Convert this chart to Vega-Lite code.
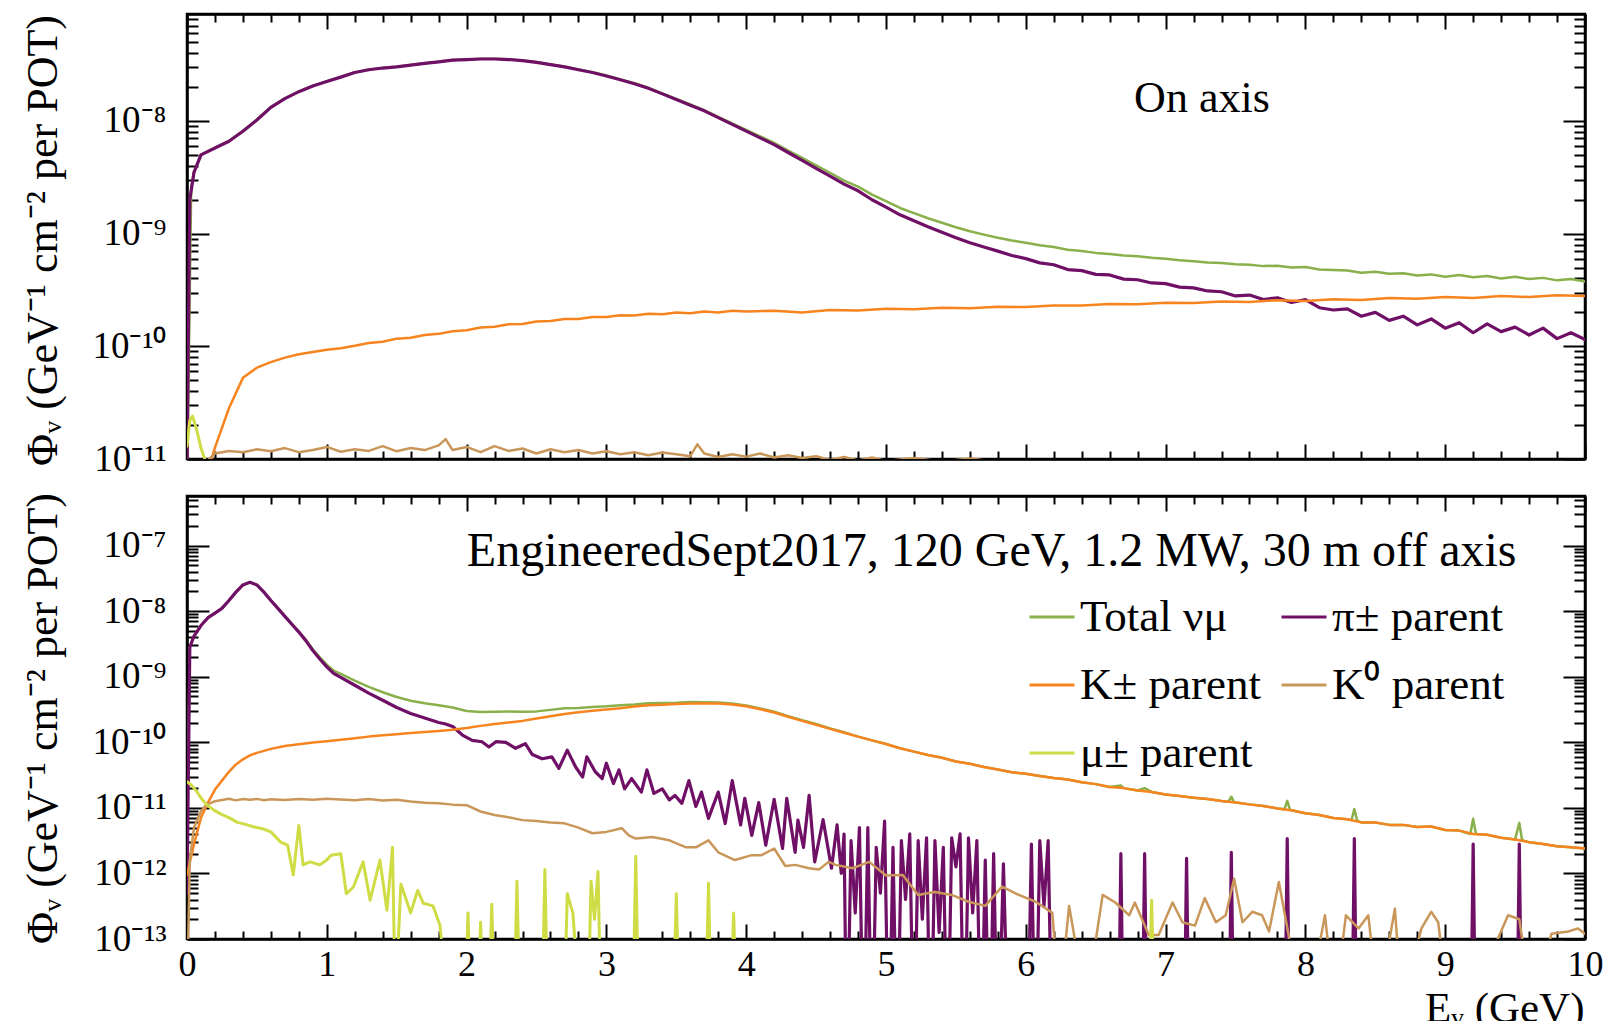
{
  "$schema": "https://vega.github.io/schema/vega-lite/v6.json",
  "padding": {"left": 19, "top": 11, "right": 19, "bottom": 5},
  "spacing": 37,
  "bounds": "flush",
  "config": {
    "font": "Liberation Serif",
    "view": {"stroke": "black", "strokeWidth": 2.5},
    "line": {"strokeJoin": "round", "strokeCap": "round"},
    "axis": {"domainColor": "black", "domainWidth": 2.5, "tickColor": "black", "tickWidth": 2, "labelColor": "black", "labelFont": "Liberation Serif", "labelFontSize": 36, "titleFont": "Liberation Serif", "titleFontSize": 44, "titleFontWeight": "normal", "titleColor": "black", "grid": false, "labelOverlap": false, "labelFlush": false},
    "legend": {"orient": "none", "legendX": 841, "legendY": 579, "columns": 2, "direction": "horizontal", "symbolType": "stroke", "symbolSize": 2025, "symbolStrokeWidth": 3, "labelFontSize": 45, "labelFont": "Liberation Serif", "labelColor": "black", "labelLimit": 500, "rowPadding": 21, "columnPadding": 19, "labelOffset": 4, "padding": 0}
  },
  "datasets": {
    "on_tot": [{"E":0.0,"v":5e-12},{"E":0.03,"v":2.55e-9},{"E":0.05,"v":3.55e-9},{"E":0.1,"v":5.02e-9},{"E":0.2,"v":5.77e-9},{"E":0.3,"v":6.63e-9},{"E":0.4,"v":8.15e-9},{"E":0.5,"v":1.03e-8},{"E":0.6,"v":1.33e-8},{"E":0.7,"v":1.59e-8},{"E":0.8,"v":1.83e-8},{"E":0.9,"v":2.05e-8},{"E":1.0,"v":2.25e-8},{"E":1.1,"v":2.46e-8},{"E":1.2,"v":2.7e-8},{"E":1.3,"v":2.86e-8},{"E":1.4,"v":2.96e-8},{"E":1.5,"v":3.03e-8},{"E":1.6,"v":3.14e-8},{"E":1.7,"v":3.25e-8},{"E":1.8,"v":3.36e-8},{"E":1.9,"v":3.48e-8},{"E":2.0,"v":3.52e-8},{"E":2.1,"v":3.56e-8},{"E":2.2,"v":3.57e-8},{"E":2.3,"v":3.53e-8},{"E":2.4,"v":3.45e-8},{"E":2.5,"v":3.33e-8},{"E":2.6,"v":3.18e-8},{"E":2.7,"v":3.04e-8},{"E":2.8,"v":2.87e-8},{"E":2.9,"v":2.71e-8},{"E":3.0,"v":2.53e-8},{"E":3.1,"v":2.34e-8},{"E":3.2,"v":2.16e-8},{"E":3.3,"v":1.97e-8},{"E":3.4,"v":1.76e-8},{"E":3.5,"v":1.57e-8},{"E":3.6,"v":1.4e-8},{"E":3.7,"v":1.25e-8},{"E":3.8,"v":1.09e-8},{"E":3.9,"v":9.54e-9},{"E":4.0,"v":8.35e-9},{"E":4.1,"v":7.3e-9},{"E":4.2,"v":6.39e-9},{"E":4.3,"v":5.47e-9},{"E":4.4,"v":4.7e-9},{"E":4.5,"v":4.03e-9},{"E":4.6,"v":3.47e-9},{"E":4.7,"v":2.96e-9},{"E":4.8,"v":2.61e-9},{"E":4.9,"v":2.22e-9},{"E":5.0,"v":1.94e-9},{"E":5.1,"v":1.69e-9},{"E":5.2,"v":1.52e-9},{"E":5.3,"v":1.37e-9},{"E":5.4,"v":1.25e-9},{"E":5.5,"v":1.14e-9},{"E":5.6,"v":1.05e-9},{"E":5.7,"v":9.8e-10},{"E":5.8,"v":9.2e-10},{"E":5.9,"v":8.7e-10},{"E":6.0,"v":8.3e-10},{"E":6.1,"v":7.9e-10},{"E":6.2,"v":7.6e-10},{"E":6.3,"v":7.2e-10},{"E":6.4,"v":7.0e-10},{"E":6.5,"v":6.75e-10},{"E":6.6,"v":6.6e-10},{"E":6.7,"v":6.4e-10},{"E":6.8,"v":6.3e-10},{"E":6.9,"v":6.1e-10},{"E":7.0,"v":6.0e-10},{"E":7.1,"v":5.8e-10},{"E":7.2,"v":5.7e-10},{"E":7.3,"v":5.55e-10},{"E":7.4,"v":5.5e-10},{"E":7.5,"v":5.35e-10},{"E":7.6,"v":5.3e-10},{"E":7.7,"v":5.15e-10},{"E":7.8,"v":5.2e-10},{"E":7.9,"v":5.0e-10},{"E":8.0,"v":5.05e-10},{"E":8.1,"v":4.8e-10},{"E":8.2,"v":4.75e-10},{"E":8.3,"v":4.7e-10},{"E":8.4,"v":4.5e-10},{"E":8.5,"v":4.6e-10},{"E":8.6,"v":4.4e-10},{"E":8.7,"v":4.45e-10},{"E":8.8,"v":4.25e-10},{"E":8.9,"v":4.35e-10},{"E":9.0,"v":4.15e-10},{"E":9.1,"v":4.3e-10},{"E":9.2,"v":4.1e-10},{"E":9.3,"v":4.2e-10},{"E":9.4,"v":4.0e-10},{"E":9.5,"v":4.15e-10},{"E":9.6,"v":3.95e-10},{"E":9.7,"v":4.05e-10},{"E":9.8,"v":3.85e-10},{"E":9.9,"v":3.95e-10},{"E":10.0,"v":3.75e-10}],
    "on_pi": [{"E":0.0,"v":8e-12},{"E":0.02,"v":2.0e-9},{"E":0.05,"v":3.5e-9},{"E":0.1,"v":5.0e-9},{"E":0.2,"v":5.75e-9},{"E":0.3,"v":6.6e-9},{"E":0.4,"v":8.1e-9},{"E":0.5,"v":1.02e-8},{"E":0.6,"v":1.32e-8},{"E":0.7,"v":1.58e-8},{"E":0.8,"v":1.82e-8},{"E":0.9,"v":2.04e-8},{"E":1.0,"v":2.24e-8},{"E":1.1,"v":2.45e-8},{"E":1.2,"v":2.69e-8},{"E":1.3,"v":2.85e-8},{"E":1.4,"v":2.95e-8},{"E":1.5,"v":3.02e-8},{"E":1.6,"v":3.13e-8},{"E":1.7,"v":3.24e-8},{"E":1.8,"v":3.35e-8},{"E":1.9,"v":3.47e-8},{"E":2.0,"v":3.51e-8},{"E":2.1,"v":3.55e-8},{"E":2.2,"v":3.55e-8},{"E":2.3,"v":3.51e-8},{"E":2.4,"v":3.43e-8},{"E":2.5,"v":3.31e-8},{"E":2.6,"v":3.16e-8},{"E":2.7,"v":3.02e-8},{"E":2.8,"v":2.85e-8},{"E":2.9,"v":2.69e-8},{"E":3.0,"v":2.51e-8},{"E":3.1,"v":2.32e-8},{"E":3.2,"v":2.14e-8},{"E":3.3,"v":1.95e-8},{"E":3.4,"v":1.74e-8},{"E":3.5,"v":1.55e-8},{"E":3.6,"v":1.38e-8},{"E":3.7,"v":1.23e-8},{"E":3.8,"v":1.07e-8},{"E":3.9,"v":9.33e-9},{"E":4.0,"v":8.13e-9},{"E":4.1,"v":7.08e-9},{"E":4.2,"v":6.17e-9},{"E":4.3,"v":5.25e-9},{"E":4.4,"v":4.47e-9},{"E":4.5,"v":3.8e-9},{"E":4.6,"v":3.24e-9},{"E":4.7,"v":2.75e-9},{"E":4.8,"v":2.4e-9},{"E":4.9,"v":2.0e-9},{"E":5.0,"v":1.72e-9},{"E":5.1,"v":1.47e-9},{"E":5.2,"v":1.3e-9},{"E":5.3,"v":1.15e-9},{"E":5.4,"v":1.03e-9},{"E":5.5,"v":9.2e-10},{"E":5.6,"v":8.3e-10},{"E":5.7,"v":7.6e-10},{"E":5.8,"v":7.0e-10},{"E":5.9,"v":6.4e-10},{"E":6.0,"v":6.0e-10},{"E":6.1,"v":5.5e-10},{"E":6.2,"v":5.3e-10},{"E":6.3,"v":4.8e-10},{"E":6.4,"v":4.7e-10},{"E":6.5,"v":4.35e-10},{"E":6.6,"v":4.3e-10},{"E":6.7,"v":3.95e-10},{"E":6.8,"v":3.9e-10},{"E":6.9,"v":3.65e-10},{"E":7.0,"v":3.6e-10},{"E":7.1,"v":3.35e-10},{"E":7.2,"v":3.3e-10},{"E":7.3,"v":3.1e-10},{"E":7.4,"v":3.05e-10},{"E":7.5,"v":2.8e-10},{"E":7.6,"v":2.85e-10},{"E":7.7,"v":2.6e-10},{"E":7.8,"v":2.7e-10},{"E":7.9,"v":2.45e-10},{"E":8.0,"v":2.6e-10},{"E":8.1,"v":2.2e-10},{"E":8.2,"v":2.1e-10},{"E":8.3,"v":2.15e-10},{"E":8.4,"v":1.85e-10},{"E":8.5,"v":2.0e-10},{"E":8.6,"v":1.7e-10},{"E":8.7,"v":1.85e-10},{"E":8.8,"v":1.55e-10},{"E":8.9,"v":1.75e-10},{"E":9.0,"v":1.45e-10},{"E":9.1,"v":1.62e-10},{"E":9.2,"v":1.32e-10},{"E":9.3,"v":1.58e-10},{"E":9.4,"v":1.35e-10},{"E":9.5,"v":1.48e-10},{"E":9.6,"v":1.26e-10},{"E":9.7,"v":1.45e-10},{"E":9.8,"v":1.17e-10},{"E":9.9,"v":1.32e-10},{"E":10.0,"v":1.15e-10}],
    "on_kc": [{"E":0.15,"v":7.9e-12},{"E":0.2,"v":1.26e-11},{"E":0.3,"v":2.82e-11},{"E":0.4,"v":5.25e-11},{"E":0.5,"v":6.46e-11},{"E":0.6,"v":7.24e-11},{"E":0.7,"v":7.94e-11},{"E":0.8,"v":8.51e-11},{"E":0.9,"v":8.91e-11},{"E":1.0,"v":9.33e-11},{"E":1.1,"v":9.6e-11},{"E":1.2,"v":1.01e-10},{"E":1.3,"v":1.07e-10},{"E":1.4,"v":1.1e-10},{"E":1.5,"v":1.17e-10},{"E":1.6,"v":1.19e-10},{"E":1.7,"v":1.26e-10},{"E":1.8,"v":1.29e-10},{"E":1.9,"v":1.36e-10},{"E":2.0,"v":1.39e-10},{"E":2.1,"v":1.47e-10},{"E":2.2,"v":1.49e-10},{"E":2.3,"v":1.57e-10},{"E":2.4,"v":1.58e-10},{"E":2.5,"v":1.66e-10},{"E":2.6,"v":1.68e-10},{"E":2.7,"v":1.75e-10},{"E":2.8,"v":1.75e-10},{"E":2.9,"v":1.82e-10},{"E":3.0,"v":1.82e-10},{"E":3.1,"v":1.89e-10},{"E":3.2,"v":1.88e-10},{"E":3.3,"v":1.95e-10},{"E":3.4,"v":1.93e-10},{"E":3.5,"v":2.0e-10},{"E":3.6,"v":1.97e-10},{"E":3.7,"v":2.04e-10},{"E":3.8,"v":2.0e-10},{"E":3.9,"v":2.07e-10},{"E":4.0,"v":2.04e-10},{"E":4.2,"v":2.07e-10},{"E":4.4,"v":2.0e-10},{"E":4.6,"v":2.1e-10},{"E":4.8,"v":2.08e-10},{"E":5.0,"v":2.15e-10},{"E":5.2,"v":2.13e-10},{"E":5.4,"v":2.2e-10},{"E":5.6,"v":2.18e-10},{"E":5.8,"v":2.25e-10},{"E":6.0,"v":2.23e-10},{"E":6.2,"v":2.3e-10},{"E":6.4,"v":2.3e-10},{"E":6.6,"v":2.38e-10},{"E":6.8,"v":2.36e-10},{"E":7.0,"v":2.44e-10},{"E":7.2,"v":2.42e-10},{"E":7.4,"v":2.5e-10},{"E":7.6,"v":2.48e-10},{"E":7.8,"v":2.57e-10},{"E":8.0,"v":2.53e-10},{"E":8.2,"v":2.62e-10},{"E":8.4,"v":2.58e-10},{"E":8.6,"v":2.68e-10},{"E":8.8,"v":2.64e-10},{"E":9.0,"v":2.74e-10},{"E":9.2,"v":2.69e-10},{"E":9.4,"v":2.79e-10},{"E":9.6,"v":2.74e-10},{"E":9.8,"v":2.84e-10},{"E":10.0,"v":2.8e-10}],
    "on_k0": [{"E":0.14,"v":9.5e-12},{"E":0.2,"v":1.12e-11},{"E":0.3,"v":1.18e-11},{"E":0.4,"v":1.15e-11},{"E":0.5,"v":1.22e-11},{"E":0.6,"v":1.17e-11},{"E":0.7,"v":1.25e-11},{"E":0.8,"v":1.15e-11},{"E":0.9,"v":1.2e-11},{"E":1.0,"v":1.28e-11},{"E":1.1,"v":1.16e-11},{"E":1.2,"v":1.22e-11},{"E":1.3,"v":1.18e-11},{"E":1.4,"v":1.3e-11},{"E":1.5,"v":1.17e-11},{"E":1.6,"v":1.25e-11},{"E":1.7,"v":1.2e-11},{"E":1.8,"v":1.32e-11},{"E":1.85,"v":1.5e-11},{"E":1.9,"v":1.2e-11},{"E":2.0,"v":1.28e-11},{"E":2.1,"v":1.15e-11},{"E":2.2,"v":1.3e-11},{"E":2.3,"v":1.18e-11},{"E":2.4,"v":1.24e-11},{"E":2.5,"v":1.12e-11},{"E":2.6,"v":1.22e-11},{"E":2.7,"v":1.15e-11},{"E":2.8,"v":1.2e-11},{"E":2.9,"v":1.12e-11},{"E":3.0,"v":1.17e-11},{"E":3.1,"v":1.1e-11},{"E":3.2,"v":1.15e-11},{"E":3.3,"v":1.08e-11},{"E":3.4,"v":1.14e-11},{"E":3.5,"v":1.1e-11},{"E":3.6,"v":1.06e-11},{"E":3.65,"v":1.35e-11},{"E":3.7,"v":1.12e-11},{"E":3.8,"v":1.04e-11},{"E":3.9,"v":1.1e-11},{"E":4.0,"v":1.05e-11},{"E":4.1,"v":1.12e-11},{"E":4.2,"v":1.03e-11},{"E":4.3,"v":1.08e-11},{"E":4.4,"v":1.02e-11},{"E":4.5,"v":1.06e-11},{"E":4.6,"v":9.8e-12},{"E":4.7,"v":1.04e-11},{"E":4.8,"v":9.7e-12},{"E":4.9,"v":1.03e-11},{"E":5.0,"v":9.6e-12},{"E":5.2,"v":1.02e-11},{"E":5.4,"v":9.5e-12},{"E":5.6,"v":1.01e-11},{"E":5.8,"v":9.4e-12},{"E":6.0,"v":9e-12},{"E":10.0,"v":8e-12}],
    "on_mu": [{"E":0.0,"v":1.3e-11},{"E":0.02,"v":2.2e-11},{"E":0.04,"v":2.4e-11},{"E":0.07,"v":1.8e-11},{"E":0.1,"v":1.25e-11},{"E":0.14,"v":9e-12},{"E":0.2,"v":8e-12},{"E":10.0,"v":5e-12}],
    "off_tot": [{"E":0.0,"v":3e-12},{"E":0.02,"v":2.85e-9},{"E":0.05,"v":4.2e-9},{"E":0.1,"v":6.06e-9},{"E":0.15,"v":7.97e-9},{"E":0.2,"v":9.37e-9},{"E":0.25,"v":1.1e-8},{"E":0.3,"v":1.45e-8},{"E":0.35,"v":1.95e-8},{"E":0.4,"v":2.52e-8},{"E":0.45,"v":2.76e-8},{"E":0.5,"v":2.52e-8},{"E":0.55,"v":1.96e-8},{"E":0.6,"v":1.46e-8},{"E":0.65,"v":1.11e-8},{"E":0.7,"v":8.42e-9},{"E":0.75,"v":6.41e-9},{"E":0.8,"v":4.89e-9},{"E":0.85,"v":3.65e-9},{"E":0.9,"v":2.62e-9},{"E":0.95,"v":1.97e-9},{"E":1.0,"v":1.53e-9},{"E":1.05,"v":1.24e-9},{"E":1.1,"v":1.1e-9},{"E":1.2,"v":8.7e-10},{"E":1.3,"v":6.98e-10},{"E":1.4,"v":5.8e-10},{"E":1.5,"v":4.9e-10},{"E":1.6,"v":4.3e-10},{"E":1.7,"v":3.93e-10},{"E":1.8,"v":3.66e-10},{"E":1.9,"v":3.4e-10},{"E":2.0,"v":3.0e-10},{"E":2.1,"v":2.89e-10},{"E":2.2,"v":2.93e-10},{"E":2.3,"v":2.95e-10},{"E":2.4,"v":2.92e-10},{"E":2.5,"v":2.96e-10},{"E":2.6,"v":3.12e-10},{"E":2.7,"v":3.3e-10},{"E":2.8,"v":3.33e-10},{"E":2.9,"v":3.46e-10},{"E":3.0,"v":3.54e-10},{"E":3.1,"v":3.68e-10},{"E":3.2,"v":3.78e-10},{"E":3.3,"v":3.94e-10},{"E":3.4,"v":3.96e-10},{"E":3.5,"v":4.0e-10},{"E":3.6,"v":4.1e-10},{"E":3.7,"v":4.08e-10},{"E":3.8,"v":4.04e-10},{"E":3.9,"v":3.92e-10},{"E":4.0,"v":3.65e-10},{"E":4.1,"v":3.28e-10},{"E":4.2,"v":2.92e-10},{"E":4.3,"v":2.5e-10},{"E":4.4,"v":2.18e-10},{"E":4.5,"v":1.9e-10},{"E":4.6,"v":1.63e-10},{"E":4.7,"v":1.42e-10},{"E":4.8,"v":1.22e-10},{"E":4.9,"v":1.07e-10},{"E":5.0,"v":9.4e-11},{"E":5.1,"v":8.1e-11},{"E":5.2,"v":7.2e-11},{"E":5.3,"v":6.4e-11},{"E":5.4,"v":5.8e-11},{"E":5.5,"v":5.1e-11},{"E":5.6,"v":4.7e-11},{"E":5.7,"v":4.2e-11},{"E":5.8,"v":3.85e-11},{"E":5.9,"v":3.5e-11},{"E":6.0,"v":3.3e-11},{"E":6.1,"v":3.05e-11},{"E":6.2,"v":2.85e-11},{"E":6.3,"v":2.7e-11},{"E":6.4,"v":2.45e-11},{"E":6.5,"v":2.3e-11},{"E":6.6,"v":2.08e-11},{"E":6.68,"v":2.2e-11},{"E":6.7,"v":2.0e-11},{"E":6.8,"v":1.84e-11},{"E":6.85,"v":2.0e-11},{"E":6.9,"v":1.75e-11},{"E":7.0,"v":1.6e-11},{"E":7.1,"v":1.52e-11},{"E":7.2,"v":1.43e-11},{"E":7.3,"v":1.36e-11},{"E":7.4,"v":1.27e-11},{"E":7.45,"v":1.24e-11},{"E":7.47,"v":1.48e-11},{"E":7.49,"v":1.22e-11},{"E":7.6,"v":1.13e-11},{"E":7.7,"v":1.07e-11},{"E":7.8,"v":9.8e-12},{"E":7.85,"v":9.5e-12},{"E":7.87,"v":1.28e-11},{"E":7.89,"v":9.3e-12},{"E":8.0,"v":8.3e-12},{"E":8.1,"v":7.8e-12},{"E":8.2,"v":7.0e-12},{"E":8.3,"v":6.7e-12},{"E":8.33,"v":6.5e-12},{"E":8.35,"v":9.6e-12},{"E":8.37,"v":6.4e-12},{"E":8.4,"v":6.0e-12},{"E":8.5,"v":6.0e-12},{"E":8.6,"v":5.5e-12},{"E":8.7,"v":5.5e-12},{"E":8.8,"v":5.1e-12},{"E":8.9,"v":5.2e-12},{"E":9.0,"v":4.6e-12},{"E":9.1,"v":4.5e-12},{"E":9.18,"v":4.0e-12},{"E":9.2,"v":6.8e-12},{"E":9.22,"v":4.0e-12},{"E":9.3,"v":3.9e-12},{"E":9.4,"v":3.5e-12},{"E":9.5,"v":3.3e-12},{"E":9.53,"v":5.9e-12},{"E":9.55,"v":3.2e-12},{"E":9.6,"v":3.0e-12},{"E":9.7,"v":2.8e-12},{"E":9.8,"v":2.6e-12},{"E":9.9,"v":2.5e-12},{"E":10.0,"v":2.4e-12}],
    "off_pi": [{"E":0.0,"v":5e-13},{"E":0.02,"v":2.8e-9},{"E":0.05,"v":4.17e-9},{"E":0.1,"v":6.03e-9},{"E":0.15,"v":7.94e-9},{"E":0.2,"v":9.33e-9},{"E":0.25,"v":1.1e-8},{"E":0.3,"v":1.45e-8},{"E":0.35,"v":1.95e-8},{"E":0.4,"v":2.51e-8},{"E":0.45,"v":2.75e-8},{"E":0.5,"v":2.51e-8},{"E":0.55,"v":1.95e-8},{"E":0.6,"v":1.45e-8},{"E":0.65,"v":1.1e-8},{"E":0.7,"v":8.32e-9},{"E":0.75,"v":6.31e-9},{"E":0.8,"v":4.79e-9},{"E":0.85,"v":3.55e-9},{"E":0.9,"v":2.51e-9},{"E":0.95,"v":1.86e-9},{"E":1.0,"v":1.41e-9},{"E":1.05,"v":1.12e-9},{"E":1.1,"v":9.77e-10},{"E":1.2,"v":7.41e-10},{"E":1.3,"v":5.62e-10},{"E":1.4,"v":4.37e-10},{"E":1.5,"v":3.39e-10},{"E":1.6,"v":2.75e-10},{"E":1.7,"v":2.34e-10},{"E":1.8,"v":2.0e-10},{"E":1.85,"v":1.9e-10},{"E":1.9,"v":1.74e-10},{"E":1.97,"v":1.29e-10},{"E":2.04,"v":1.07e-10},{"E":2.11,"v":1.02e-10},{"E":2.16,"v":8.5e-11},{"E":2.21,"v":1.02e-10},{"E":2.28,"v":1.0e-10},{"E":2.35,"v":8.1e-11},{"E":2.42,"v":9.5e-11},{"E":2.47,"v":6.5e-11},{"E":2.54,"v":5.6e-11},{"E":2.61,"v":6.0e-11},{"E":2.66,"v":4.0e-11},{"E":2.72,"v":7.6e-11},{"E":2.78,"v":4.2e-11},{"E":2.83,"v":2.95e-11},{"E":2.86,"v":6.0e-11},{"E":2.92,"v":3.55e-11},{"E":2.97,"v":2.8e-11},{"E":3.0,"v":4.8e-11},{"E":3.05,"v":2.35e-11},{"E":3.09,"v":3.8e-11},{"E":3.13,"v":1.95e-11},{"E":3.18,"v":2.8e-11},{"E":3.25,"v":1.74e-11},{"E":3.29,"v":3.8e-11},{"E":3.34,"v":1.66e-11},{"E":3.4,"v":1.95e-11},{"E":3.45,"v":1.32e-11},{"E":3.49,"v":1.55e-11},{"E":3.54,"v":1.17e-11},{"E":3.59,"v":2.6e-11},{"E":3.64,"v":1.05e-11},{"E":3.68,"v":1.74e-11},{"E":3.73,"v":6.9e-12},{"E":3.8,"v":1.74e-11},{"E":3.85,"v":5.75e-12},{"E":3.9,"v":2.6e-11},{"E":3.96,"v":5.5e-12},{"E":3.99,"v":1.4e-11},{"E":4.04,"v":3.8e-12},{"E":4.09,"v":1.2e-11},{"E":4.14,"v":2.7e-12},{"E":4.2,"v":1.35e-11},{"E":4.26,"v":2.4e-12},{"E":4.29,"v":1.4e-11},{"E":4.35,"v":2.1e-12},{"E":4.37,"v":6.5e-12},{"E":4.41,"v":2.5e-12},{"E":4.45,"v":1.55e-11},{"E":4.49,"v":1.5e-12},{"E":4.55,"v":6.6e-12},{"E":4.61,"v":1.2e-12},{"E":4.65,"v":5.5e-12},{"E":4.68,"v":1.0e-12},{"E":4.7,"v":3.98e-12},{"E":4.72,"v":1e-15},{"E":4.75,"v":3.16e-12},{"E":4.78,"v":2.5e-13},{"E":4.81,"v":5.0e-12},{"E":4.84,"v":1e-15},{"E":4.87,"v":5.0e-12},{"E":4.9,"v":1e-15},{"E":4.93,"v":2.5e-12},{"E":4.96,"v":5.0e-13},{"E":4.99,"v":6.3e-12},{"E":5.02,"v":1e-15},{"E":5.05,"v":2.5e-12},{"E":5.08,"v":1e-15},{"E":5.11,"v":3.16e-12},{"E":5.14,"v":4.0e-13},{"E":5.17,"v":4.0e-12},{"E":5.2,"v":1e-15},{"E":5.23,"v":3.16e-12},{"E":5.26,"v":2.0e-13},{"E":5.29,"v":3.5e-12},{"E":5.32,"v":1e-15},{"E":5.35,"v":3.16e-12},{"E":5.38,"v":1.26e-13},{"E":5.41,"v":2.5e-12},{"E":5.44,"v":1e-15},{"E":5.47,"v":3.5e-12},{"E":5.5,"v":1.26e-12},{"E":5.53,"v":4.0e-12},{"E":5.56,"v":1e-15},{"E":5.59,"v":3.5e-12},{"E":5.62,"v":2.5e-13},{"E":5.65,"v":3.16e-12},{"E":5.68,"v":1e-15},{"E":5.71,"v":1.6e-12},{"E":5.74,"v":1e-15},{"E":5.77,"v":2.0e-12},{"E":5.8,"v":1e-15},{"E":5.84,"v":1.4e-12},{"E":5.88,"v":1e-15},{"E":6.01,"v":1e-15},{"E":6.04,"v":2.8e-12},{"E":6.07,"v":1e-15},{"E":6.1,"v":3.16e-12},{"E":6.13,"v":3.16e-13},{"E":6.16,"v":3.16e-12},{"E":6.19,"v":1e-15},{"E":6.66,"v":1e-15},{"E":6.68,"v":2.0e-12},{"E":6.7,"v":1e-15},{"E":6.83,"v":1e-15},{"E":6.85,"v":2.0e-12},{"E":6.87,"v":1e-15},{"E":7.13,"v":1e-15},{"E":7.15,"v":1.7e-12},{"E":7.17,"v":1e-15},{"E":7.45,"v":1e-15},{"E":7.47,"v":2.1e-12},{"E":7.49,"v":1e-15},{"E":7.85,"v":1e-15},{"E":7.87,"v":3.4e-12},{"E":7.89,"v":1e-15},{"E":8.33,"v":1e-15},{"E":8.35,"v":3.4e-12},{"E":8.37,"v":1e-15},{"E":9.18,"v":1e-15},{"E":9.2,"v":2.8e-12},{"E":9.22,"v":1e-15},{"E":9.51,"v":1e-15},{"E":9.53,"v":2.8e-12},{"E":9.55,"v":1e-15},{"E":10.0,"v":1e-15}],
    "off_kc": [{"E":0.0,"v":9.5e-13},{"E":0.05,"v":2.8e-12},{"E":0.1,"v":7.1e-12},{"E":0.15,"v":1.2e-11},{"E":0.2,"v":1.9e-11},{"E":0.25,"v":2.6e-11},{"E":0.3,"v":3.55e-11},{"E":0.35,"v":4.6e-11},{"E":0.4,"v":5.5e-11},{"E":0.45,"v":6.3e-11},{"E":0.5,"v":6.9e-11},{"E":0.6,"v":7.94e-11},{"E":0.7,"v":8.8e-11},{"E":0.8,"v":9.3e-11},{"E":0.9,"v":9.9e-11},{"E":1.0,"v":1.04e-10},{"E":1.1,"v":1.09e-10},{"E":1.2,"v":1.15e-10},{"E":1.3,"v":1.22e-10},{"E":1.4,"v":1.28e-10},{"E":1.5,"v":1.33e-10},{"E":1.6,"v":1.38e-10},{"E":1.7,"v":1.43e-10},{"E":1.8,"v":1.49e-10},{"E":1.9,"v":1.55e-10},{"E":2.0,"v":1.65e-10},{"E":2.1,"v":1.78e-10},{"E":2.2,"v":1.9e-10},{"E":2.3,"v":2.0e-10},{"E":2.4,"v":2.12e-10},{"E":2.5,"v":2.3e-10},{"E":2.6,"v":2.5e-10},{"E":2.7,"v":2.7e-10},{"E":2.8,"v":2.88e-10},{"E":2.9,"v":3.02e-10},{"E":3.0,"v":3.15e-10},{"E":3.1,"v":3.31e-10},{"E":3.2,"v":3.5e-10},{"E":3.3,"v":3.66e-10},{"E":3.4,"v":3.75e-10},{"E":3.5,"v":3.82e-10},{"E":3.6,"v":3.9e-10},{"E":3.7,"v":3.94e-10},{"E":3.8,"v":3.9e-10},{"E":3.9,"v":3.78e-10},{"E":4.0,"v":3.55e-10},{"E":4.1,"v":3.2e-10},{"E":4.2,"v":2.84e-10},{"E":4.3,"v":2.45e-10},{"E":4.4,"v":2.12e-10},{"E":4.5,"v":1.85e-10},{"E":4.6,"v":1.6e-10},{"E":4.7,"v":1.4e-10},{"E":4.8,"v":1.22e-10},{"E":4.9,"v":1.07e-10},{"E":5.0,"v":9.4e-11},{"E":5.1,"v":8.1e-11},{"E":5.2,"v":7.2e-11},{"E":5.3,"v":6.4e-11},{"E":5.4,"v":5.8e-11},{"E":5.5,"v":5.1e-11},{"E":5.6,"v":4.7e-11},{"E":5.7,"v":4.2e-11},{"E":5.8,"v":3.85e-11},{"E":5.9,"v":3.5e-11},{"E":6.0,"v":3.3e-11},{"E":6.1,"v":3.05e-11},{"E":6.2,"v":2.85e-11},{"E":6.3,"v":2.7e-11},{"E":6.4,"v":2.45e-11},{"E":6.5,"v":2.3e-11},{"E":6.6,"v":2.08e-11},{"E":6.7,"v":2.0e-11},{"E":6.8,"v":1.84e-11},{"E":6.9,"v":1.75e-11},{"E":7.0,"v":1.6e-11},{"E":7.1,"v":1.52e-11},{"E":7.2,"v":1.43e-11},{"E":7.3,"v":1.36e-11},{"E":7.4,"v":1.27e-11},{"E":7.5,"v":1.21e-11},{"E":7.6,"v":1.13e-11},{"E":7.7,"v":1.07e-11},{"E":7.8,"v":9.8e-12},{"E":7.9,"v":9.2e-12},{"E":8.0,"v":8.3e-12},{"E":8.1,"v":7.8e-12},{"E":8.2,"v":7.0e-12},{"E":8.3,"v":6.7e-12},{"E":8.4,"v":6.0e-12},{"E":8.5,"v":6.0e-12},{"E":8.6,"v":5.5e-12},{"E":8.7,"v":5.5e-12},{"E":8.8,"v":5.1e-12},{"E":8.9,"v":5.2e-12},{"E":9.0,"v":4.6e-12},{"E":9.1,"v":4.5e-12},{"E":9.2,"v":4.0e-12},{"E":9.3,"v":3.9e-12},{"E":9.4,"v":3.5e-12},{"E":9.5,"v":3.3e-12},{"E":9.6,"v":3.0e-12},{"E":9.7,"v":2.8e-12},{"E":9.8,"v":2.6e-12},{"E":9.9,"v":2.5e-12},{"E":10.0,"v":2.4e-12}],
    "off_k0": [{"E":0.0,"v":1e-14},{"E":0.02,"v":1.58e-12},{"E":0.05,"v":5.0e-12},{"E":0.1,"v":8.9e-12},{"E":0.14,"v":1.12e-11},{"E":0.2,"v":1.26e-11},{"E":0.25,"v":1.32e-11},{"E":0.3,"v":1.38e-11},{"E":0.35,"v":1.3e-11},{"E":0.4,"v":1.36e-11},{"E":0.45,"v":1.33e-11},{"E":0.5,"v":1.37e-11},{"E":0.55,"v":1.31e-11},{"E":0.6,"v":1.35e-11},{"E":0.7,"v":1.32e-11},{"E":0.8,"v":1.37e-11},{"E":0.9,"v":1.33e-11},{"E":1.0,"v":1.38e-11},{"E":1.1,"v":1.34e-11},{"E":1.2,"v":1.31e-11},{"E":1.3,"v":1.36e-11},{"E":1.4,"v":1.29e-11},{"E":1.5,"v":1.33e-11},{"E":1.6,"v":1.25e-11},{"E":1.7,"v":1.2e-11},{"E":1.8,"v":1.18e-11},{"E":1.9,"v":1.12e-11},{"E":2.0,"v":1.1e-11},{"E":2.1,"v":8.8e-12},{"E":2.2,"v":7.8e-12},{"E":2.3,"v":7.2e-12},{"E":2.4,"v":6.5e-12},{"E":2.5,"v":6.3e-12},{"E":2.6,"v":6.0e-12},{"E":2.7,"v":5.8e-12},{"E":2.8,"v":5.0e-12},{"E":2.9,"v":4.1e-12},{"E":3.0,"v":4.3e-12},{"E":3.11,"v":4.9e-12},{"E":3.16,"v":3.8e-12},{"E":3.21,"v":3.4e-12},{"E":3.33,"v":3.6e-12},{"E":3.45,"v":3.2e-12},{"E":3.57,"v":2.5e-12},{"E":3.64,"v":2.5e-12},{"E":3.73,"v":3.2e-12},{"E":3.8,"v":2.1e-12},{"E":3.92,"v":1.6e-12},{"E":4.04,"v":1.9e-12},{"E":4.11,"v":1.9e-12},{"E":4.2,"v":2.4e-12},{"E":4.28,"v":1.3e-12},{"E":4.35,"v":1.35e-12},{"E":4.45,"v":1.2e-12},{"E":4.52,"v":1.15e-12},{"E":4.59,"v":1.5e-12},{"E":4.64,"v":1.35e-12},{"E":4.76,"v":1.2e-12},{"E":4.88,"v":1.5e-12},{"E":5.0,"v":9.3e-13},{"E":5.12,"v":9.5e-13},{"E":5.23,"v":4.7e-13},{"E":5.35,"v":5.2e-13},{"E":5.47,"v":4.7e-13},{"E":5.59,"v":3.7e-13},{"E":5.71,"v":3.2e-13},{"E":5.83,"v":6.3e-13},{"E":5.95,"v":4.7e-13},{"E":6.07,"v":3.7e-13},{"E":6.19,"v":2.5e-13},{"E":6.24,"v":1e-14},{"E":6.31,"v":3.2e-13},{"E":6.43,"v":1e-14},{"E":6.55,"v":4.7e-13},{"E":6.64,"v":3.6e-13},{"E":6.74,"v":2.3e-13},{"E":6.78,"v":3.6e-13},{"E":6.88,"v":1.15e-13},{"E":6.95,"v":1.15e-13},{"E":7.05,"v":3.6e-13},{"E":7.12,"v":1.8e-13},{"E":7.21,"v":1.6e-13},{"E":7.28,"v":4.2e-13},{"E":7.36,"v":1.8e-13},{"E":7.43,"v":2.3e-13},{"E":7.49,"v":8.3e-13},{"E":7.55,"v":1.8e-13},{"E":7.62,"v":2.6e-13},{"E":7.69,"v":2.3e-13},{"E":7.74,"v":1.3e-13},{"E":7.81,"v":7.4e-13},{"E":7.88,"v":1.15e-13},{"E":7.95,"v":1e-14},{"E":8.02,"v":1e-14},{"E":8.14,"v":2.3e-13},{"E":8.21,"v":1e-14},{"E":8.29,"v":2.3e-13},{"E":8.38,"v":1.45e-13},{"E":8.45,"v":2.3e-13},{"E":8.52,"v":1e-14},{"E":8.64,"v":2.9e-13},{"E":8.69,"v":1e-14},{"E":8.83,"v":1.45e-13},{"E":8.9,"v":2.6e-13},{"E":8.95,"v":1.8e-13},{"E":9.02,"v":1e-14},{"E":9.17,"v":1e-14},{"E":9.45,"v":2.3e-13},{"E":9.53,"v":2.0e-13},{"E":9.62,"v":1e-14},{"E":9.76,"v":1.2e-13},{"E":9.88,"v":1.3e-13},{"E":9.95,"v":1.45e-13},{"E":10.0,"v":1.2e-13}],
    "off_mu": [{"E":0.0,"v":2.5e-11},{"E":0.03,"v":2.24e-11},{"E":0.07,"v":1.78e-11},{"E":0.1,"v":1.41e-11},{"E":0.14,"v":1.12e-11},{"E":0.19,"v":9.3e-12},{"E":0.24,"v":8.1e-12},{"E":0.3,"v":7.1e-12},{"E":0.36,"v":6.0e-12},{"E":0.42,"v":5.6e-12},{"E":0.48,"v":5.1e-12},{"E":0.54,"v":4.8e-12},{"E":0.6,"v":4.3e-12},{"E":0.67,"v":3.0e-12},{"E":0.72,"v":2.7e-12},{"E":0.76,"v":9.5e-13},{"E":0.8,"v":5.4e-12},{"E":0.83,"v":1.35e-12},{"E":0.88,"v":1.5e-12},{"E":0.95,"v":1.35e-12},{"E":1.0,"v":1.6e-12},{"E":1.03,"v":1.9e-12},{"E":1.1,"v":2.0e-12},{"E":1.14,"v":4.9e-13},{"E":1.19,"v":6.2e-13},{"E":1.26,"v":1.5e-12},{"E":1.31,"v":3.9e-13},{"E":1.38,"v":1.6e-12},{"E":1.43,"v":2.75e-13},{"E":1.47,"v":2.5e-12},{"E":1.49,"v":1e-14},{"E":1.53,"v":6.9e-13},{"E":1.6,"v":2.5e-13},{"E":1.65,"v":5.5e-13},{"E":1.69,"v":3.5e-13},{"E":1.76,"v":3.2e-13},{"E":1.81,"v":1.6e-13},{"E":1.86,"v":1e-14},{"E":1.99,"v":1e-14},{"E":2.01,"v":2.5e-13},{"E":2.03,"v":1e-14},{"E":2.08,"v":1e-14},{"E":2.1,"v":1.8e-13},{"E":2.12,"v":1e-14},{"E":2.16,"v":1e-14},{"E":2.18,"v":3.4e-13},{"E":2.2,"v":1e-14},{"E":2.34,"v":1e-14},{"E":2.36,"v":7.6e-13},{"E":2.38,"v":1e-14},{"E":2.54,"v":1e-14},{"E":2.56,"v":1.15e-12},{"E":2.58,"v":1e-14},{"E":2.7,"v":1e-14},{"E":2.72,"v":4.9e-13},{"E":2.76,"v":2.5e-13},{"E":2.81,"v":1e-14},{"E":2.87,"v":1e-14},{"E":2.89,"v":7.6e-13},{"E":2.915,"v":2e-13},{"E":2.94,"v":1.07e-12},{"E":2.96,"v":1e-14},{"E":3.19,"v":1e-14},{"E":3.21,"v":1.82e-12},{"E":3.23,"v":1e-14},{"E":3.48,"v":1e-14},{"E":3.5,"v":4.9e-13},{"E":3.52,"v":1e-14},{"E":3.71,"v":1e-14},{"E":3.73,"v":7.1e-13},{"E":3.75,"v":1e-14},{"E":3.89,"v":1e-14},{"E":3.91,"v":2.5e-13},{"E":3.93,"v":1e-14},{"E":6.88,"v":1e-14},{"E":6.9,"v":3.9e-13},{"E":6.92,"v":1e-14},{"E":10.0,"v":1e-14}]
  },
  "vconcat": [
    {
      "width": 1398,
      "height": 445,
      "resolve": {"axis": {"x": "independent", "y": "independent"}},
      "layer": [
        {
          "data": {"name": "on_tot"},
          "mark": {"type": "line", "clip": true, "strokeWidth": 2.5},
          "encoding": {
            "x": {"field": "E", "type": "quantitative", "scale": {"domain": [0, 10], "nice": false, "zero": false},
                  "axis": {"orient": "bottom", "values": [0,0.2,0.4,0.6,0.8,1,1.2,1.4,1.6,1.8,2,2.2,2.4,2.6,2.8,3,3.2,3.4,3.6,3.8,4,4.2,4.4,4.6,4.8,5,5.2,5.4,5.6,5.8,6,6.2,6.4,6.6,6.8,7,7.2,7.4,7.6,7.8,8,8.2,8.4,8.6,8.8,9,9.2,9.4,9.6,9.8,10], "tickSize": {"condition": {"test": "abs(datum.value - round(datum.value)) < 0.01", "value": -15}, "value": -8}, "labels": false, "title": null}},
            "y": {"field": "v", "type": "quantitative", "scale": {"type": "log", "domain": [1e-11, 8.9e-8], "nice": false},
                  "axis": {"orient": "left", "values": [1e-11,2e-11,3e-11,4e-11,5e-11,6e-11,7e-11,8e-11,9e-11,1e-10,2e-10,3e-10,4e-10,5e-10,6e-10,7e-10,8e-10,9e-10,1e-9,2e-9,3e-9,4e-9,5e-9,6e-9,7e-9,8e-9,9e-9,1e-8,2e-8,3e-8,4e-8,5e-8,6e-8,7e-8,8e-8], "tickSize": {"condition": {"test": "abs(log(datum.value)/LN10 - round(log(datum.value)/LN10)) < 0.01", "value": -22}, "value": -11}, "labelFontSize": {"condition": {"test": "abs(log(datum.value)/LN10 - round(log(datum.value)/LN10)) < 0.01", "value": 37}, "value": 1}, "labelExpr": "abs(log(datum.value)/LN10 - round(log(datum.value)/LN10)) < 0.01 ? '10' + ['⁻¹³','⁻¹²','⁻¹¹','⁻¹⁰','⁻⁹','⁻⁸','⁻⁷','⁻⁶'][round(log(datum.value)/LN10) + 13] : ''", "labelPadding": 43, "title": "Φᵥ (GeV⁻¹ cm⁻² per POT)", "titleX": -144, "titleY": 226, "titleBaseline": "middle", "titleAlign": "center"}},
            "color": {"datum": "Total νμ", "scale": {"domain": ["Total νμ", "π± parent", "K± parent", "K⁰ parent", "μ± parent"], "range": ["#89b04a", "#6f1066", "#f7841f", "#c9975a", "#d0dc45"]}, "legend": {"title": null}}
          }
        },
        {
          "data": {"name": "on_pi"},
          "mark": {"type": "line", "clip": true, "strokeWidth": 3.2},
          "encoding": {
            "x": {"field": "E", "type": "quantitative", "axis": {"orient": "top", "values": [0,0.2,0.4,0.6,0.8,1,1.2,1.4,1.6,1.8,2,2.2,2.4,2.6,2.8,3,3.2,3.4,3.6,3.8,4,4.2,4.4,4.6,4.8,5,5.2,5.4,5.6,5.8,6,6.2,6.4,6.6,6.8,7,7.2,7.4,7.6,7.8,8,8.2,8.4,8.6,8.8,9,9.2,9.4,9.6,9.8,10], "tickSize": {"condition": {"test": "abs(datum.value - round(datum.value)) < 0.01", "value": -15}, "value": -8}, "labels": false, "title": null}},
            "y": {"field": "v", "type": "quantitative", "axis": {"orient": "right", "values": [1e-11,2e-11,3e-11,4e-11,5e-11,6e-11,7e-11,8e-11,9e-11,1e-10,2e-10,3e-10,4e-10,5e-10,6e-10,7e-10,8e-10,9e-10,1e-9,2e-9,3e-9,4e-9,5e-9,6e-9,7e-9,8e-9,9e-9,1e-8,2e-8,3e-8,4e-8,5e-8,6e-8,7e-8,8e-8], "tickSize": {"condition": {"test": "abs(log(datum.value)/LN10 - round(log(datum.value)/LN10)) < 0.01", "value": -22}, "value": -11}, "labels": false, "title": null}},
            "color": {"datum": "π± parent"}
          }
        },
        {
          "data": {"name": "on_kc"},
          "mark": {"type": "line", "clip": true, "strokeWidth": 2.5},
          "encoding": {"x": {"field": "E", "type": "quantitative", "axis": null}, "y": {"field": "v", "type": "quantitative", "axis": null}, "color": {"datum": "K± parent"}}
        },
        {
          "data": {"name": "on_k0"},
          "mark": {"type": "line", "clip": true, "strokeWidth": 2.5},
          "encoding": {"x": {"field": "E", "type": "quantitative", "axis": null}, "y": {"field": "v", "type": "quantitative", "axis": null}, "color": {"datum": "K⁰ parent"}}
        },
        {
          "data": {"name": "on_mu"},
          "mark": {"type": "line", "clip": true, "strokeWidth": 3},
          "encoding": {"x": {"field": "E", "type": "quantitative", "axis": null}, "y": {"field": "v", "type": "quantitative", "axis": null}, "color": {"datum": "μ± parent"}}
        },
        {
          "data": {"values": [{"label": "On axis"}]},
          "mark": {"type": "text", "font": "Liberation Serif", "fontSize": 44, "align": "center", "baseline": "middle", "color": "black"},
          "encoding": {"text": {"field": "label"}, "x": {"datum": 7.26, "axis": null}, "y": {"datum": 1.56e-8, "axis": null}}
        }
      ]
    },
    {
      "width": 1398,
      "height": 443,
      "resolve": {"axis": {"x": "independent", "y": "independent"}},
      "layer": [
        {
          "data": {"name": "off_tot"},
          "mark": {"type": "line", "clip": true, "strokeWidth": 2.5},
          "encoding": {
            "x": {"field": "E", "type": "quantitative", "scale": {"domain": [0, 10], "nice": false, "zero": false},
                  "axis": {"orient": "bottom", "values": [0,0.2,0.4,0.6,0.8,1,1.2,1.4,1.6,1.8,2,2.2,2.4,2.6,2.8,3,3.2,3.4,3.6,3.8,4,4.2,4.4,4.6,4.8,5,5.2,5.4,5.6,5.8,6,6.2,6.4,6.6,6.8,7,7.2,7.4,7.6,7.8,8,8.2,8.4,8.6,8.8,9,9.2,9.4,9.6,9.8,10], "tickSize": {"condition": {"test": "abs(datum.value - round(datum.value)) < 0.01", "value": -15}, "value": -8}, "labelExpr": "abs(datum.value - round(datum.value)) < 0.01 ? format(datum.value, 'd') : ''", "labelPadding": 23, "title": "Eᵥ (GeV)", "titleX": 1397, "titleY": 69, "titleFontSize": 43, "titleAlign": "right", "titleAnchor": "end", "titleBaseline": "middle"}},
            "y": {"field": "v", "type": "quantitative", "scale": {"type": "log", "domain": [1e-13, 5.7e-7], "nice": false},
                  "axis": {"orient": "left", "values": [1e-13,2e-13,3e-13,4e-13,5e-13,6e-13,7e-13,8e-13,9e-13,1e-12,2e-12,3e-12,4e-12,5e-12,6e-12,7e-12,8e-12,9e-12,1e-11,2e-11,3e-11,4e-11,5e-11,6e-11,7e-11,8e-11,9e-11,1e-10,2e-10,3e-10,4e-10,5e-10,6e-10,7e-10,8e-10,9e-10,1e-9,2e-9,3e-9,4e-9,5e-9,6e-9,7e-9,8e-9,9e-9,1e-8,2e-8,3e-8,4e-8,5e-8,6e-8,7e-8,8e-8,9e-8,1e-7,2e-7,3e-7,4e-7,5e-7], "tickSize": {"condition": {"test": "abs(log(datum.value)/LN10 - round(log(datum.value)/LN10)) < 0.01", "value": -22}, "value": -11}, "labelFontSize": {"condition": {"test": "abs(log(datum.value)/LN10 - round(log(datum.value)/LN10)) < 0.01", "value": 37}, "value": 1}, "labelExpr": "abs(log(datum.value)/LN10 - round(log(datum.value)/LN10)) < 0.01 ? '10' + ['⁻¹³','⁻¹²','⁻¹¹','⁻¹⁰','⁻⁹','⁻⁸','⁻⁷','⁻⁶'][round(log(datum.value)/LN10) + 13] : ''", "labelPadding": 43, "title": "Φᵥ (GeV⁻¹ cm⁻² per POT)", "titleX": -144, "titleY": 222, "titleBaseline": "middle", "titleAlign": "center"}},
            "color": {"datum": "Total νμ"}
          }
        },
        {
          "data": {"name": "off_pi"},
          "mark": {"type": "line", "clip": true, "strokeWidth": 3.2},
          "encoding": {
            "x": {"field": "E", "type": "quantitative", "axis": {"orient": "top", "values": [0,0.2,0.4,0.6,0.8,1,1.2,1.4,1.6,1.8,2,2.2,2.4,2.6,2.8,3,3.2,3.4,3.6,3.8,4,4.2,4.4,4.6,4.8,5,5.2,5.4,5.6,5.8,6,6.2,6.4,6.6,6.8,7,7.2,7.4,7.6,7.8,8,8.2,8.4,8.6,8.8,9,9.2,9.4,9.6,9.8,10], "tickSize": {"condition": {"test": "abs(datum.value - round(datum.value)) < 0.01", "value": -15}, "value": -8}, "labels": false, "title": null}},
            "y": {"field": "v", "type": "quantitative", "axis": {"orient": "right", "values": [1e-13,2e-13,3e-13,4e-13,5e-13,6e-13,7e-13,8e-13,9e-13,1e-12,2e-12,3e-12,4e-12,5e-12,6e-12,7e-12,8e-12,9e-12,1e-11,2e-11,3e-11,4e-11,5e-11,6e-11,7e-11,8e-11,9e-11,1e-10,2e-10,3e-10,4e-10,5e-10,6e-10,7e-10,8e-10,9e-10,1e-9,2e-9,3e-9,4e-9,5e-9,6e-9,7e-9,8e-9,9e-9,1e-8,2e-8,3e-8,4e-8,5e-8,6e-8,7e-8,8e-8,9e-8,1e-7,2e-7,3e-7,4e-7,5e-7], "tickSize": {"condition": {"test": "abs(log(datum.value)/LN10 - round(log(datum.value)/LN10)) < 0.01", "value": -22}, "value": -11}, "labels": false, "title": null}},
            "color": {"datum": "π± parent"}
          }
        },
        {
          "data": {"name": "off_kc"},
          "mark": {"type": "line", "clip": true, "strokeWidth": 2.5},
          "encoding": {"x": {"field": "E", "type": "quantitative", "axis": null}, "y": {"field": "v", "type": "quantitative", "axis": null}, "color": {"datum": "K± parent"}}
        },
        {
          "data": {"name": "off_k0"},
          "mark": {"type": "line", "clip": true, "strokeWidth": 2.5},
          "encoding": {"x": {"field": "E", "type": "quantitative", "axis": null}, "y": {"field": "v", "type": "quantitative", "axis": null}, "color": {"datum": "K⁰ parent"}}
        },
        {
          "data": {"name": "off_mu"},
          "mark": {"type": "line", "clip": true, "strokeWidth": 3},
          "encoding": {"x": {"field": "E", "type": "quantitative", "axis": null}, "y": {"field": "v", "type": "quantitative", "axis": null}, "color": {"datum": "μ± parent"}}
        },
        {
          "data": {"values": [{"label": "EngineeredSept2017, 120 GeV, 1.2 MW, 30 m off axis"}]},
          "mark": {"type": "text", "font": "Liberation Serif", "fontSize": 48, "align": "right", "baseline": "middle", "color": "black"},
          "encoding": {"text": {"field": "label"}, "x": {"datum": 9.51, "axis": null}, "y": {"datum": 7.9e-8, "axis": null}}
        }
      ]
    }
  ]
}
